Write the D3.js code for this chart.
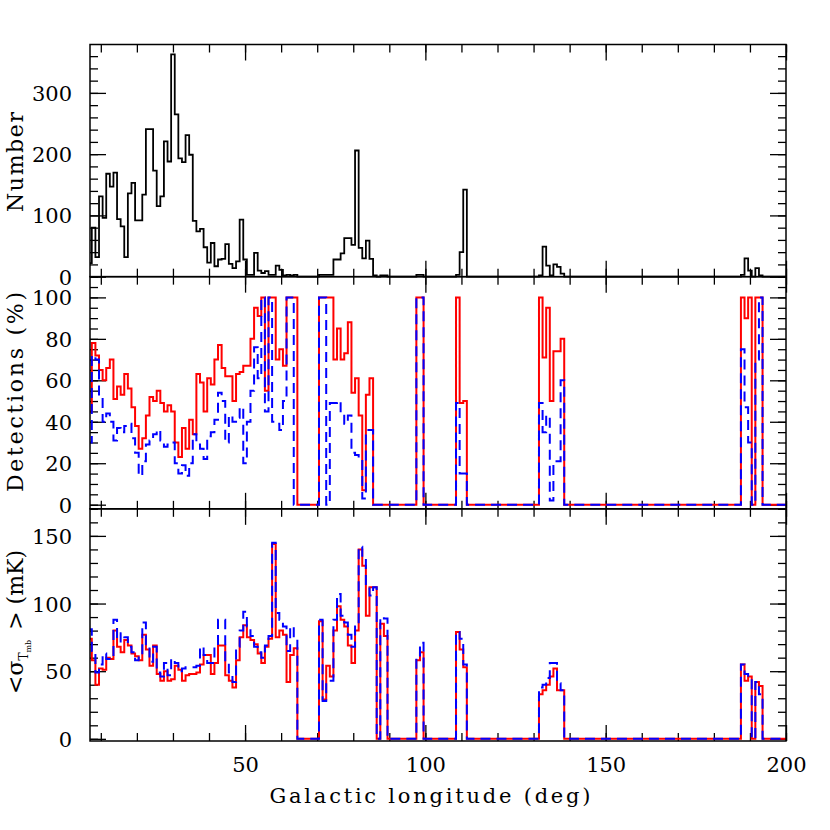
<!DOCTYPE html>
<html><head><meta charset="utf-8">
<script src="https://cdn.jsdelivr.net/npm/d3@7"></script>
<style>
body{margin:0;background:#fff;}
text{font-family:"DejaVu Serif",serif;fill:#000;}
</style></head><body>
<svg id="c" width="830" height="830"></svg>
<script>
// Bin centres in galactic longitude (deg), 1-degree bins
const longitudes = d3.range(7, 201);

// Top panel: number of sources per bin
const numberCounts = [
 22,80,32,131,96,168,147,170,94,82,
 32,136,153,92,92,134,241,241,173,115,
 131,221,188,363,265,193,187,231,199,91,
 74,78,48,23,55,17,28,29,53,21,
 14,25,93,28,3,3,39,10,6,9,
 3,3,18,11,2,3,2,3,0,0,
 0,0,0,0,3,3,3,3,28,28,
 38,63,63,52,206,47,30,59,29,2,
 0,2,2,0,0,0,0,0,0,0,
 0,3,3,0,0,0,0,0,0,0,
 0,0,3,40,142,0,0,0,0,0,
 0,0,0,0,0,0,0,0,0,0,
 0,0,0,0,0,2,49,18,2,20,
 16,5,0,0,0,0,0,0,0,0,
 0,0,0,0,0,0,0,0,0,0,
 0,0,0,0,0,0,0,0,0,0,
 0,0,0,0,0,0,0,0,0,0,
 0,0,0,0,0,0,0,0,0,0,
 0,3,30,10,0,14,2,0,0,0,
 0,0,0,0];

// Middle panel: detection percentage (red solid / blue dashed)
const detectRed = [
 45,78,72,65,60,66,70,51,57,53,
 63,56,47,38,27,32,43,52,50,55,
 49,45,48,45,30,23,37,27,41,34,
 63,59,45,61,58,70,77,66,62,62,
 50,63,64,67,67,80,95,91,100,55,
 100,100,70,75,67,100,100,100,0,0,
 0,0,0,0,100,100,100,100,70,85,
 70,73,88,54,61,43,7,53,61,0,
 0,0,0,0,0,0,0,0,0,0,
 0,100,100,0,0,0,0,0,0,0,
 0,0,100,49,50,0,0,0,0,0,
 0,0,0,0,0,0,0,0,0,0,
 0,0,0,0,0,100,71,95,50,74,
 74,80,0,0,0,0,0,0,0,0,
 0,0,0,0,0,0,0,0,0,0,
 0,0,0,0,0,0,0,0,0,0,
 0,0,0,0,0,0,0,0,0,0,
 0,0,0,0,0,0,0,0,0,0,
 0,100,90,100,0,100,100,0,0,0,
 0,0,0,0];
const detectBlue = [
 30,72,70,52,40,44,40,31,37,35,
 38,39,32,25,14,21,29,31,34,36,
 31,28,29,30,20,15,19,14,20,34,
 29,27,22,33,35,41,54,50,30,43,
 40,42,47,20,40,55,76,61,100,45,
 100,40,39,36,50,100,100,0,0,0,
 0,0,0,0,100,100,0,49,49,50,
 44,39,43,25,24,22,3,36,36,0,
 0,0,0,0,0,0,0,0,0,0,
 0,100,100,0,0,0,0,0,0,0,
 0,0,49,15,15,0,0,0,0,0,
 0,0,0,0,0,0,0,0,0,0,
 0,0,0,0,0,49,35,43,2,21,
 21,60,0,0,0,0,0,0,0,0,
 0,0,0,0,0,0,0,0,0,0,
 0,0,0,0,0,0,0,0,0,0,
 0,0,0,0,0,0,0,0,0,0,
 0,0,0,0,0,0,0,0,0,0,
 0,75,47,30,0,70,100,0,0,0,
 0,0,0,0];

// Bottom panel: mean sigma(T_mb) in mK (red solid / blue dashed)
const sigmaRed = [
 74,58,40,52,51,60,59,80,68,64,
 73,69,63,61,58,77,66,54,69,48,
 43,50,43,44,54,51,43,47,48,48,
 49,55,62,62,48,56,69,69,47,43,
 38,58,75,84,75,73,70,63,56,68,
 74,144,75,80,77,42,62,67,0,0,
 0,0,0,0,87,29,54,46,80,98,
 88,83,69,56,80,140,128,91,112,112,
 0,85,76,0,0,0,0,0,0,0,
 0,58,64,0,0,0,0,0,0,0,
 0,0,79,66,53,0,0,0,0,0,
 0,0,0,0,0,0,0,0,0,0,
 0,0,0,0,0,33,36,40,46,52,
 36,36,0,0,0,0,0,0,0,0,
 0,0,0,0,0,0,0,0,0,0,
 0,0,0,0,0,0,0,0,0,0,
 0,0,0,0,0,0,0,0,0,0,
 0,0,0,0,0,0,0,0,0,0,
 0,55,43,46,0,42,39,0,0,0,
 0,0,0,0];
const sigmaBlue = [
 81,65,49,55,63,59,59,88,72,78,
 75,68,64,58,61,86,68,57,68,49,
 46,56,47,59,56,50,52,53,53,53,
 54,68,62,56,56,69,88,88,56,49,
 42,68,80,94,83,76,68,64,60,69,
 76,145,93,88,83,65,83,75,0,0,
 0,0,0,0,88,28,43,43,88,107,
 91,86,77,68,83,142,133,113,106,112,
 0,90,89,0,0,0,0,0,0,0,
 0,60,71,0,0,0,0,0,0,0,
 0,0,79,74,55,0,0,0,0,0,
 0,0,0,0,0,0,0,0,0,0,
 0,0,0,0,0,38,40,45,56,56,
 41,36,0,0,0,0,0,0,0,0,
 0,0,0,0,0,0,0,0,0,0,
 0,0,0,0,0,0,0,0,0,0,
 0,0,0,0,0,0,0,0,0,0,
 0,0,0,0,0,0,0,0,0,0,
 0,55,48,45,0,42,33,0,0,0,
 0,0,0,0];

const xMajorTicks = [50,100,150,200];
const xMinorTicks = d3.range(10, 201, 10);
const xTickLabels = ["50","100","150","200"];

const panels = [
  {domain:[0,379], major:[0,100,200,300], minor:d3.range(0,379,20), labels:["0","100","200","300"]},
  {domain:[-2,110], major:[0,20,40,60,80,100], minor:d3.range(0,111,5), labels:["0","20","40","60","80","100"]},
  {domain:[-1.6,170], major:[0,50,100,150], minor:d3.range(0,171,10), labels:["0","50","100","150"]}
];

const svg = d3.select("#c");
const L = 90, R = 786, T = 44.5, B = 741;
const ph = (B - T) / 3;
const x = d3.scaleLinear().domain([7,200]).range([L,R]);

svg.append("defs").append("clipPath").attr("id","clip")
  .append("rect").attr("x",L).attr("y",T).attr("width",R-L).attr("height",B-T);

function stepLine(vals, yS) {
  const pts = longitudes.map((c,i)=>[c-0.5, vals[i]]);
  pts.push([longitudes[longitudes.length-1]+0.5, vals[vals.length-1]]);
  return d3.line().x(d=>x(d[0])).y(d=>yS(d[1])).curve(d3.curveStepAfter)(pts);
}

panels.forEach((p, k) => {
  const top = T + k*ph, bot = T + (k+1)*ph;
  const y = d3.scaleLinear().domain(p.domain).range([bot, top]);
  p.y = y;
  const g = svg.append("g");
  const tickStyle = sel => { sel.select(".domain").remove(); sel.selectAll("line").attr("stroke","#000").attr("stroke-width",1.3); sel.selectAll("text").remove(); };
  g.append("g").attr("transform",`translate(0,${bot})`).call(d3.axisBottom(x).tickValues(xMinorTicks).tickSize(-8)).call(tickStyle);
  g.append("g").attr("transform",`translate(0,${bot})`).call(d3.axisBottom(x).tickValues(xMajorTicks).tickSize(-16)).call(tickStyle);
  g.append("g").attr("transform",`translate(0,${top})`).call(d3.axisTop(x).tickValues(xMinorTicks).tickSize(-8)).call(tickStyle);
  g.append("g").attr("transform",`translate(0,${top})`).call(d3.axisTop(x).tickValues(xMajorTicks).tickSize(-16)).call(tickStyle);
  g.append("g").attr("transform",`translate(${L},0)`).call(d3.axisLeft(y).tickValues(p.minor).tickSize(-8)).call(tickStyle);
  g.append("g").attr("transform",`translate(${L},0)`).call(d3.axisLeft(y).tickValues(p.major).tickSize(-16)).call(tickStyle);
  g.append("g").attr("transform",`translate(${R},0)`).call(d3.axisRight(y).tickValues(p.minor).tickSize(-8)).call(tickStyle);
  g.append("g").attr("transform",`translate(${R},0)`).call(d3.axisRight(y).tickValues(p.major).tickSize(-16)).call(tickStyle);
  const yl = g.append("g").attr("transform",`translate(${L},0)`)
    .call(d3.axisLeft(y).tickValues(p.major).tickSize(0).tickPadding(18).tickFormat((d,i)=>p.labels[i]));
  yl.select(".domain").remove();
  yl.selectAll("text").attr("font-family","DejaVu Serif").attr("font-size",21).attr("fill","#000").attr("dy","0.36em");
});

const plot = svg.append("g").attr("clip-path","url(#clip)");
plot.append("path").attr("d", stepLine(numberCounts, panels[0].y)).attr("fill","none").attr("stroke","#000").attr("stroke-width",1.8);
plot.append("path").attr("d", stepLine(detectRed, panels[1].y)).attr("fill","none").attr("stroke","#ff0000").attr("stroke-width",2);
plot.append("path").attr("d", stepLine(detectBlue, panels[1].y)).attr("fill","none").attr("stroke","#0000ff").attr("stroke-width",2).attr("stroke-dasharray","10,6");
plot.append("path").attr("d", stepLine(sigmaRed, panels[2].y)).attr("fill","none").attr("stroke","#ff0000").attr("stroke-width",2);
plot.append("path").attr("d", stepLine(sigmaBlue, panels[2].y)).attr("fill","none").attr("stroke","#0000ff").attr("stroke-width",2).attr("stroke-dasharray","10,6");

panels.forEach((p,k)=>{
  svg.append("rect").attr("x",L).attr("y",T+k*ph).attr("width",R-L).attr("height",ph)
    .attr("fill","none").attr("stroke","#000").attr("stroke-width",1.5);
});

const xl = svg.append("g").attr("transform",`translate(0,${B})`)
  .call(d3.axisBottom(x).tickValues(xMajorTicks).tickSize(0).tickPadding(16).tickFormat((d,i)=>xTickLabels[i]));
xl.select(".domain").remove();
xl.selectAll("text").attr("font-family","DejaVu Serif").attr("font-size",21).attr("fill","#000");

svg.append("text").attr("x",430).attr("y",803).attr("text-anchor","middle")
  .attr("font-size",21).attr("textLength",321).attr("lengthAdjust","spacing")
  .text("Galactic longitude (deg)");
svg.append("text").attr("transform","translate(23,162) rotate(-90)").attr("text-anchor","middle")
  .attr("font-size",22).attr("textLength",100).attr("lengthAdjust","spacing").text("Number");
svg.append("text").attr("transform","translate(23,392) rotate(-90)").attr("text-anchor","middle")
  .attr("font-size",22).attr("textLength",200).attr("lengthAdjust","spacing").text("Detections (%)");
const st = svg.append("text").attr("transform","translate(23,622) rotate(-90)").attr("text-anchor","middle").attr("font-size",22);
st.append("tspan").text("<σ");
st.append("tspan").attr("font-size",12).attr("dy",5).text("T");
st.append("tspan").attr("font-size",8).attr("dy",3).text("mb");
st.append("tspan").attr("dy",-8).attr("dx",3).text(" > (mK)");
</script>
</body></html>
